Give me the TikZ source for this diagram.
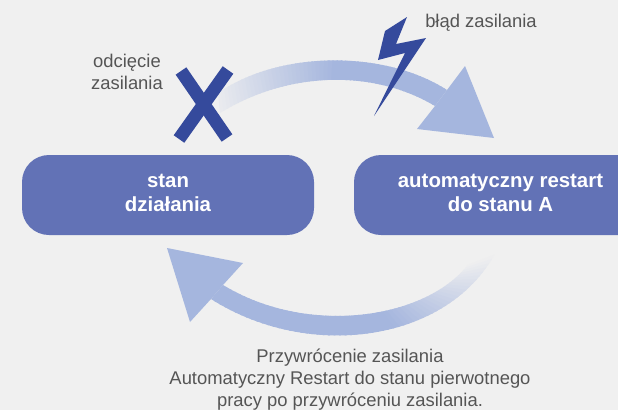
\documentclass[tikz,border=0pt]{standalone}
\usepackage{fontspec}
\setmainfont{Liberation Sans}
\definecolor{bgc}{HTML}{F0F0F0}
\definecolor{boxc}{HTML}{6272B6}
\definecolor{arrowc}{HTML}{A5B6DE}
\definecolor{darkc}{HTML}{354A9C}
\definecolor{textc}{HTML}{555555}
\tikzset{
  boxshape/.style={fill=boxc,rounded corners=27pt},
  boxtext/.style={text=white,align=center,font=\fontsize{20.4}{24}\selectfont\bfseries,inner sep=0pt},
  lbl/.style={text=textc,align=center,font=\fontsize{18.4}{22}\selectfont,inner sep=0pt},
  xbar/.style={draw=darkc,line width=13pt}
}
% point on a cubic Bezier: \bezpt{x0,y0,x1,y1,x2,y2,x3,y3}{t}{name}
\newcommand{\bezval}[5]{\pgfmathparse{(1-#1)^3*#2+3*(1-#1)^2*#1*#3+3*(1-#1)*#1^2*#4+#1^3*#5}}
\def\bezsplit#1,#2,#3,#4,#5,#6,#7,#8\relax#9{%
  \bezval{\beztt}{#1}{#3}{#5}{#7}\let\bezx\pgfmathresult
  \bezval{\beztt}{#2}{#4}{#6}{#8}\let\bezy\pgfmathresult
  \coordinate (#9) at (\bezx,\bezy);}
\newcommand{\bezpt}[3]{\pgfmathsetmacro{\beztt}{#2}\bezsplit#1\relax{#3}}
% curved band made of overlapping strips, fading in: {outer}{inner}{start mix}{t where solid}
\newcommand{\band}[4]{%
  \foreach \i in {0,...,59}{%
    \pgfmathsetmacro{\ta}{\i/60}%
    \pgfmathsetmacro{\tb}{min(1,(\i+1.3)/60)}%
    \pgfmathtruncatemacro{\mixp}{min(100,#3+(100-#3)*\ta/#4)}%
    \bezpt{#1}{\ta}{oa}\bezpt{#1}{\tb}{ob}\bezpt{#2}{\ta}{ia}\bezpt{#2}{\tb}{ib}%
    \fill[arrowc!\mixp!bgc] (oa) -- (ob) -- (ib) -- (ia) -- cycle;%
  }%
}
\begin{document}
\begin{tikzpicture}[x=1pt,y=-1pt]
\useasboundingbox (0,0) rectangle (618,410);
\fill[bgc] (0,0) rectangle (618,410);
\begin{scope}
\clip (0,0) rectangle (618,410);
\fill[boxshape] (354,155) rectangle (680,235);
\end{scope}
\fill[boxshape] (22,155) rectangle (314,235);
\node[boxtext] (stan) at (168,193) {stan\\działania};
\node[boxtext] (restart) at (500.5,193) {automatyczny restart\\do stanu A};
% upper arrow
\band{218,93,280,50,385,50,447,90}{220,113,290,70,375,70,435,106}{10}{0.5}
\fill[arrowc] (447,90) -- (465,66) -- (494,138) -- (417,129) -- (435,106) -- cycle;
% lower arrow
\band{497,250,450,342,310,362,211,299}{470,262,430,318,310,338,223,285}{0}{0.42}
\fill[arrowc] (211,299) -- (190,322) -- (167,248) -- (243,263) -- (223,285) -- cycle;
% cross
\coordinate (xa) at (181,71); \coordinate (xb) at (227,138);
\coordinate (xc) at (228,70); \coordinate (xd) at (179,139);
\draw[xbar] (xa) -- (xb);
\draw[xbar] (xc) -- (xd);
% bolt
\fill[darkc] (407,17) -- (385,31) -- (378,60) -- (405,53) -- (374,116) -- (426,38) -- (396,44) -- cycle;
\node[lbl,anchor=east] (odc) at (163,72) {odcięcie\\zasilania};
\node[lbl] (blad) at (481,23) {błąd zasilania};
\node[lbl] (prz) at (350,379.5) {Przywrócenie zasilania\\Automatyczny Restart do stanu pierwotnego\\pracy po przywróceniu zasilania.};
\end{tikzpicture}
\end{document}
